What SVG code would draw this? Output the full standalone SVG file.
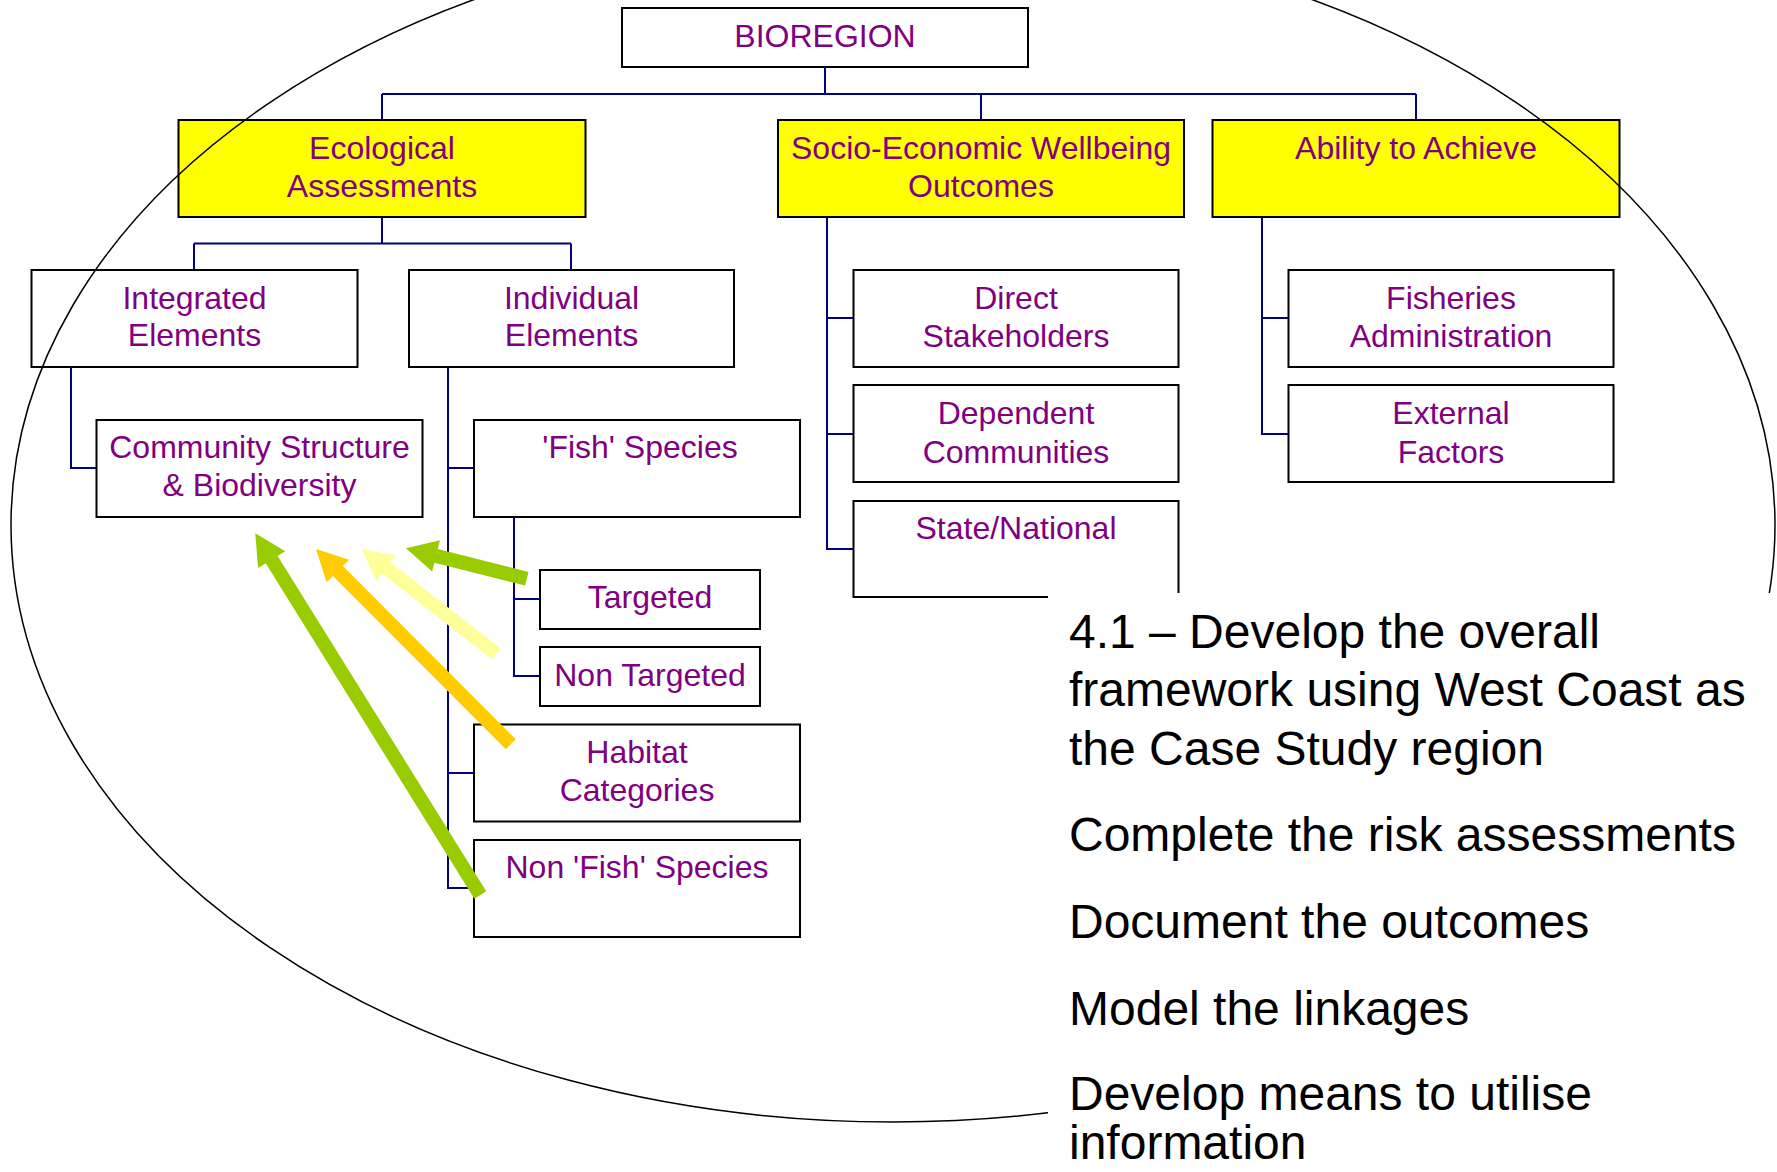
<svg xmlns="http://www.w3.org/2000/svg" width="1777" height="1172" viewBox="0 0 1777 1172">
<style>
.box{fill:#ffffff;stroke:#000000;stroke-width:2}
.yel{fill:#ffff00;stroke:#000000;stroke-width:2}
.lbl{font-family:"Liberation Sans",Arial,sans-serif;font-size:32px;fill:#800080;text-anchor:middle}
.con{fill:none;stroke:#000080;stroke-width:2}
.big{font-family:"Liberation Sans",Arial,sans-serif;font-size:48px;fill:#000000}
</style>
<rect x="0" y="0" width="1777" height="1172" fill="#ffffff"/>
<g id="bioregion"><rect class="box" x="622" y="8" width="406" height="59"/><text class="lbl" x="825" y="47">BIOREGION</text></g>
<g id="ecological"><rect class="yel" x="178.5" y="120" width="407" height="97"/><text class="lbl" x="382" y="159">Ecological</text><text class="lbl" x="382" y="196.5">Assessments</text></g>
<g id="socio"><rect class="yel" x="778" y="120" width="406" height="97"/><text class="lbl" x="981" y="159">Socio-Economic Wellbeing</text><text class="lbl" x="981" y="196.5">Outcomes</text></g>
<g id="ability"><rect class="yel" x="1212.5" y="120" width="407" height="97"/><text class="lbl" x="1416" y="159">Ability to Achieve</text></g>
<g id="integrated"><rect class="box" x="31.5" y="270" width="326" height="97"/><text class="lbl" x="194.5" y="308.5">Integrated</text><text class="lbl" x="194.5" y="346">Elements</text></g>
<g id="individual"><rect class="box" x="409" y="270" width="325" height="97"/><text class="lbl" x="571.5" y="308.5">Individual</text><text class="lbl" x="571.5" y="346">Elements</text></g>
<g id="community"><rect class="box" x="96.5" y="420" width="326" height="97"/><text class="lbl" x="259.5" y="458">Community Structure</text><text class="lbl" x="259.5" y="496">&amp; Biodiversity</text></g>
<g id="fish"><rect class="box" x="474" y="420" width="326" height="97"/><text class="lbl" x="640" y="458">'Fish' Species</text></g>
<g id="targeted"><rect class="box" x="540" y="570" width="220" height="59"/><text class="lbl" x="650" y="608">Targeted</text></g>
<g id="nontargeted"><rect class="box" x="540" y="647" width="220" height="59"/><text class="lbl" x="650" y="686">Non Targeted</text></g>
<g id="habitat"><rect class="box" x="474" y="724.5" width="326" height="97"/><text class="lbl" x="637" y="763">Habitat</text><text class="lbl" x="637" y="801">Categories</text></g>
<g id="nonfish"><rect class="box" x="474" y="840" width="326" height="97"/><text class="lbl" x="637" y="877.5">Non 'Fish' Species</text></g>
<g id="direct"><rect class="box" x="853.5" y="270" width="325" height="97"/><text class="lbl" x="1016" y="308.5">Direct</text><text class="lbl" x="1016" y="346.5">Stakeholders</text></g>
<g id="dependent"><rect class="box" x="853.5" y="385" width="325" height="97"/><text class="lbl" x="1016" y="424">Dependent</text><text class="lbl" x="1016" y="462.5">Communities</text></g>
<g id="state"><rect class="box" x="853.5" y="501" width="325" height="96"/><text class="lbl" x="1016" y="539">State/National</text></g>
<g id="fisheries"><rect class="box" x="1288.5" y="270" width="325" height="97"/><text class="lbl" x="1451" y="308.5">Fisheries</text><text class="lbl" x="1451" y="346.5">Administration</text></g>
<g id="external"><rect class="box" x="1288.5" y="385" width="325" height="97"/><text class="lbl" x="1451" y="424">External</text><text class="lbl" x="1451" y="462.5">Factors</text></g>
<g id="connectors">
<path class="con" d="M825,67 V94 M382,94 H1416 M382,94 V120 M981,94 V120 M1416,94 V120"/>
<path class="con" d="M382,217 V243.5 M194,243.5 H571 M194,243.5 V270 M571,243.5 V270"/>
<path class="con" d="M71,367 V468 H96.5"/>
<path class="con" d="M448,367 V888 H474 M448,468 H474 M448,773 H474"/>
<path class="con" d="M514,517 V676 H540 M514,599 H540"/>
<path class="con" d="M827,217 V549 H853.5 M827,318 H853.5 M827,434 H853.5"/>
<path class="con" d="M1262,217 V434 H1288.5 M1262,318 H1288.5"/>
</g>
<ellipse cx="893" cy="525" rx="882" ry="597" fill="none" stroke="#000000" stroke-width="1.5"/>
<g id="arrows">
<polygon fill="#99cc00" points="486.24,891.30 277.61,555.92 285.26,551.17 255.3,533.3 258.08,568.07 265.73,563.32 474.36,898.70"/>
<polygon fill="#ffcc00" points="515.76,739.36 342.86,566.01 349.23,559.65 316,549 326.57,582.25 332.94,575.89 505.84,749.24"/>
<polygon fill="#ffff99" points="500.5,648.28 390.46,562.54 396.0,555.44 361.7,549 376.32,580.68 381.86,573.58 491.9,659.32"/>
<polygon fill="#99cc00" points="528.51,571.91 437.77,549.07 439.96,540.34 406,548.3 432.16,571.38 434.35,562.65 525.09,585.49"/>
</g>
<g id="notes">
<rect x="1048" y="593" width="729" height="579" fill="#ffffff"/>
<text class="big" x="1069" y="648">4.1 – Develop the overall</text>
<text class="big" x="1069" y="706">framework using West Coast as</text>
<text class="big" x="1069" y="765">the Case Study region</text>
<text class="big" x="1069" y="851">Complete the risk assessments</text>
<text class="big" x="1069" y="938">Document the outcomes</text>
<text class="big" x="1069" y="1025">Model the linkages</text>
<text class="big" x="1069" y="1110">Develop means to utilise</text>
<text class="big" x="1069" y="1159">information</text>
</g>
</svg>
